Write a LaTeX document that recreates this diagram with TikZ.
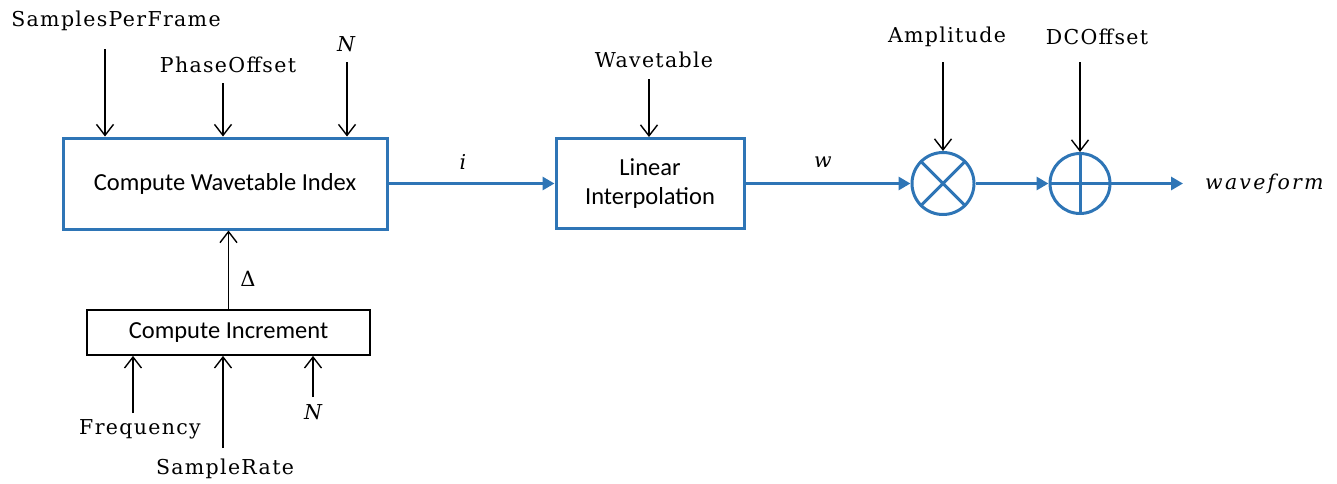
\documentclass[tikz,border=0pt]{standalone}
\usepackage{fontspec}
\setmainfont{DejaVu Serif}
\newfontfamily\boxfont{Carlito}
\newfontfamily\lblfont[LetterSpace=6.5]{DejaVu Serif}
\newfontfamily\itfont[LetterSpace=11]{DejaVu Serif Italic}
\usetikzlibrary{arrows.meta}
\definecolor{wblue}{HTML}{2E75B6}
\begin{document}
\begin{tikzpicture}[x=1pt,y=-1pt,
  blk/.style={line width=1.4pt,-{Straight Barb[length=11pt,width=17pt,line width=1.4pt]}},
  bl/.style={draw=wblue,line width=3pt,-{Triangle[length=12pt,width=13pt]}},
  bbox/.style={draw=wblue,line width=3pt,rectangle,inner sep=0pt,align=center,
    font=\boxfont\fontsize{24.5}{29}\selectfont},
  kbox/.style={draw=black,line width=1.8pt,rectangle,inner sep=0pt,align=center,
    font=\boxfont\fontsize{24.5}{29}\selectfont},
  opc/.style={draw=wblue,line width=3pt,circle,inner sep=0pt},
  lbl/.style={inner sep=0pt,font=\lblfont\fontsize{20.5}{24}\selectfont},
  ilbl/.style={inner sep=0pt,font=\itfont\fontsize{20.5}{24}\selectfont},
]
\useasboundingbox (0,0) rectangle (1337,483);
% blocks
\node[bbox,minimum width=324pt,minimum height=91pt] (cwi) at (225,183.5) {Compute Wavetable Index};
\node[bbox,minimum width=188pt,minimum height=90pt] (li) at (650,183.5) {Linear\\Interpolation};
\node[kbox,minimum width=283pt,minimum height=45pt] (ci) at (228.5,332.5) {Compute Increment};
\node[opc,minimum size=62pt] (mul) at (943,183.5) {};
\node[opc,minimum size=60pt] (add) at (1080,183.5) {};
\draw[wblue,line width=3pt] (mul.45) -- (mul.225) (mul.135) -- (mul.315);
\draw[wblue,line width=3pt] (add.north) -- (add.south) (add.west) -- (add.east);
% labels
\node[lbl] (spf) at (116,21) {SamplesPerFrame};
\node[lbl] (po) at (228,65) {PhaseOffset};
\node[ilbl] (n1) at (346,44) {N};
\node[lbl] (wt) at (654,60) {Wavetable};
\node[lbl] (amp) at (947,37) {Amplitude};
\node[lbl] (dco) at (1097,37) {DCOffset};
\node[lbl] (fr) at (140,429) {Frequency};
\node[lbl] (sr) at (225,469) {SampleRate};
\node[ilbl] (n2) at (313,412) {N};
\node[inner sep=0pt,font=\fontsize{21}{25}\selectfont] (dl) at (248,279) {Δ};
\node[ilbl] (il) at (463,162) {i};
\node[ilbl] (wl) at (823,162) {w};
\node[ilbl,anchor=west] (wf) at (1205,183.5) {waveform};
% input arrow starts
\coordinate (sA) at (105,49);
\coordinate (sB) at (223,83);
\coordinate (sC) at (347,62);
\coordinate (f1) at (133,413);
\coordinate (f2) at (223,448);
\coordinate (f3) at (313,397);
\coordinate (wv) at (649,79);
\coordinate (am) at (943,62);
\coordinate (dc) at (1080,62);
\coordinate (out) at (1183,183.5);
% black arrows
\draw[blk] (sA) -- (sA |- cwi.north);
\draw[blk] (sB) -- (sB |- cwi.north);
\draw[blk] (sC) -- (sC |- cwi.north);
\draw[blk] (ci.north) -- (ci.north |- cwi.south);
\draw[blk] (f1) -- (f1 |- ci.south);
\draw[blk] (f2) -- (f2 |- ci.south);
\draw[blk] (f3) -- (f3 |- ci.south);
\draw[blk] (wv) -- (wv |- li.north);
\draw[blk] (am) -- (mul.north);
\draw[blk] (dc) -- (add.north);
% blue flow
\draw[bl] (cwi.east) -- (li.west);
\draw[bl] (li.east) -- (mul.west);
\draw[bl] (mul.east) -- (add.west);
\draw[bl] (add.east) -- (out);
\end{tikzpicture}
\end{document}
